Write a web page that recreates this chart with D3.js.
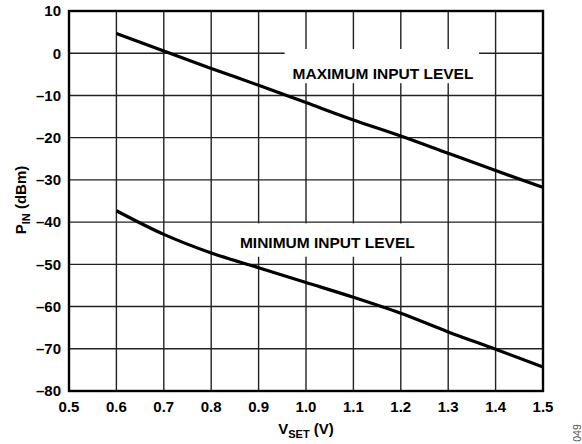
<!DOCTYPE html>
<html><head><meta charset="utf-8">
<script src="https://cdn.jsdelivr.net/npm/d3@7"></script>
<style>
body{margin:0;background:#fff;}
text{font-family:"Liberation Sans",Arial,sans-serif;}
</style></head>
<body><svg id="c" width="582" height="444"></svg>
<script>
const vset = [0.6,0.7,0.8,0.9,1.0,1.1,1.2,1.3,1.4,1.5];
const maxLevel = [4.7,0.5,-3.6,-7.6,-11.7,-15.8,-19.6,-23.7,-27.8,-31.8];
const minLevel = [-37.3,-42.9,-47.3,-50.8,-54.3,-57.8,-61.6,-66.0,-70.1,-74.3];
const xTicks = [0.5,0.6,0.7,0.8,0.9,1.0,1.1,1.2,1.3,1.4,1.5];
const yTicks = [10,0,-10,-20,-30,-40,-50,-60,-70,-80];
const labels = ["MAXIMUM INPUT LEVEL","MINIMUM INPUT LEVEL"];

const svg = d3.select("#c");
const L=69,R=543,T=11,B=391;
const x = d3.scaleLinear().domain([0.5,1.5]).range([L,R]);
const y = d3.scaleLinear().domain([-80,10]).range([B,T]);
const fmtY = v => v<0 ? "\u2013"+Math.abs(v) : String(v);

// grid
svg.append("g").selectAll("line").data(xTicks.slice(1,-1)).join("line")
  .attr("x1",d=>x(d)).attr("x2",d=>x(d)).attr("y1",T).attr("y2",B)
  .attr("stroke","#222").attr("stroke-width",1.4);
svg.append("g").selectAll("line").data(yTicks.slice(1,-1)).join("line")
  .attr("y1",d=>y(d)).attr("y2",d=>y(d)).attr("x1",L).attr("x2",R)
  .attr("stroke","#222").attr("stroke-width",1.4);

// label boxes
const boxes = [{x0:0.955,x1:1.365,y0:1,y1:-7.1,tx:1.1625,ty:-6.2,t:labels[0]},
               {x0:0.845,x1:1.25,y0:-40.3,y1:-48.2,tx:1.045,ty:-46.1,t:labels[1]}];
svg.append("g").selectAll("rect").data(boxes).join("rect")
  .attr("x",d=>x(d.x0)).attr("y",d=>y(d.y0))
  .attr("width",d=>x(d.x1)-x(d.x0)).attr("height",d=>y(d.y1)-y(d.y0))
  .attr("fill","#fff");

// lines
const line = d3.line().x((d,i)=>x(vset[i])).y(d=>y(d)).curve(d3.curveMonotoneX);
[maxLevel,minLevel].forEach(s=>{
  svg.append("path").datum(s).attr("d",line).attr("fill","none")
    .attr("stroke","#000").attr("stroke-width",3.2);
});

svg.append("g").selectAll("text").data(boxes).join("text")
  .attr("x",d=>x(d.tx)).attr("y",d=>y(d.ty)).attr("text-anchor","middle")
  .attr("font-size",15.5).attr("font-weight","bold").text(d=>d.t);

// frame
svg.append("rect").attr("x",L).attr("y",T).attr("width",R-L).attr("height",B-T)
  .attr("fill","none").attr("stroke","#000").attr("stroke-width",2.4);

// tick labels
svg.append("g").selectAll("text").data(yTicks).join("text")
  .attr("x",L-8).attr("y",d=>y(d)+5.3).attr("text-anchor","end")
  .attr("font-size",15).attr("font-weight","bold").text(fmtY);
svg.append("g").selectAll("text").data(xTicks).join("text")
  .attr("x",d=>x(d)).attr("y",411.5).attr("text-anchor","middle")
  .attr("font-size",15).attr("font-weight","bold").text(d=>d.toFixed(1));

// axis titles
const xt = svg.append("text").attr("x",(L+R)/2).attr("y",434).attr("text-anchor","middle")
  .attr("font-size",15).attr("font-weight","bold");
xt.append("tspan").text("V");
xt.append("tspan").attr("font-size",11).attr("dy",4).text("SET");
xt.append("tspan").attr("dy",-4).text(" (V)");

const yt = svg.append("text").attr("transform","translate(26,200) rotate(-90)")
  .attr("text-anchor","middle").attr("font-size",15).attr("font-weight","bold");
yt.append("tspan").text("P");
yt.append("tspan").attr("font-size",11).attr("dy",4).text("IN");
yt.append("tspan").attr("dy",-4).text(" (dBm)");

svg.append("text").attr("transform","translate(580.5,433) rotate(-90)")
  .attr("text-anchor","middle").attr("font-size",10.5).attr("fill","#555").text("049");
</script></body></html>
